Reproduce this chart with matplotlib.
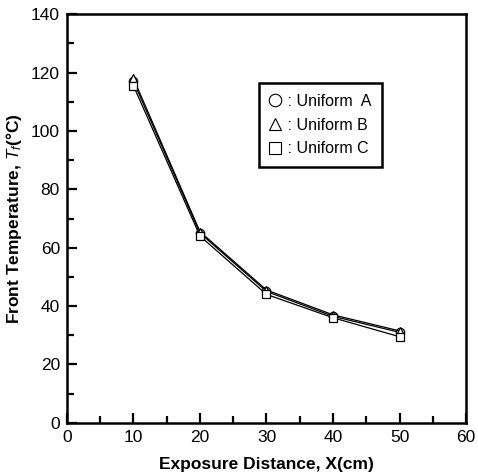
import numpy as np
import matplotlib.pyplot as plt
from matplotlib.lines import Line2D
from matplotlib.ticker import MultipleLocator

plt.rcParams['font.family'] = ['Liberation Sans', 'DejaVu Sans']
plt.rcParams['mathtext.fontset'] = 'custom'
plt.rcParams['mathtext.it'] = 'Liberation Sans:italic'
plt.rcParams['mathtext.rm'] = 'Liberation Sans'
plt.rcParams['mathtext.bf'] = 'Liberation Sans:bold'

# exposure distance (cm)
dist = [10, 20, 30, 40, 50]
# front temperature readings
uniform_a = [117.0, 65.0, 45.0, 36.5, 31.0]
uniform_b = [118.0, 65.5, 45.5, 37.0, 31.5]
uniform_c = [115.5, 64.0, 44.0, 36.0, 29.5]

fig = plt.figure(figsize=(4.78, 4.74), dpi=100)
ax = fig.add_axes([0.140, 0.108, 0.835, 0.862])

ax.plot(dist, uniform_a, color='black', lw=0.9, marker='o', ms=6, mfc='white', mec='black', mew=0.9)
ax.plot(dist, uniform_b, color='black', lw=0.9, marker='^', ms=6, mfc='white', mec='black', mew=0.9)
ax.plot(dist, uniform_c, color='black', lw=0.9, marker='s', ms=5.5, mfc='white', mec='black', mew=0.9)

ax.set_xlim(0, 60)
ax.set_ylim(0, 140)
ax.xaxis.set_major_locator(MultipleLocator(10))
ax.xaxis.set_minor_locator(MultipleLocator(5))
ax.yaxis.set_major_locator(MultipleLocator(20))
ax.yaxis.set_minor_locator(MultipleLocator(10))
ax.tick_params(which='both', direction='in', top=False, right=False, labelsize=12.5, width=1.6)
ax.tick_params(which='major', length=7, pad=5)
ax.tick_params(which='minor', length=5)
for s in ax.spines.values():
    s.set_linewidth(1.8)

ax.set_xlabel('Exposure Distance, X(cm)', fontsize=12.5, fontweight='bold', labelpad=9)
ax.set_ylabel(r'Front Temperature, $T_f$(°C)', fontsize=12.5, fontweight='bold', labelpad=5)

handles = [
    Line2D([], [], ls='none', marker='o', ms=9, mfc='white', mec='black', mew=0.8),
    Line2D([], [], ls='none', marker='^', ms=9, mfc='white', mec='black', mew=0.8),
    Line2D([], [], ls='none', marker='s', ms=9, mfc='white', mec='black', mew=0.8),
]
labels = [' : Uniform  A', ' : Uniform B', ' : Uniform C']
leg = ax.legend(handles, labels, loc='upper left', bbox_to_anchor=(0.46, 0.85),
                fontsize=11.5, frameon=True, fancybox=False, framealpha=1,
                edgecolor='black', handlelength=0.8, handletextpad=0.1,
                labelspacing=0.55, borderpad=0.65)
leg.get_frame().set_linewidth(1.8)

fig.savefig('out.png', dpi=100)
